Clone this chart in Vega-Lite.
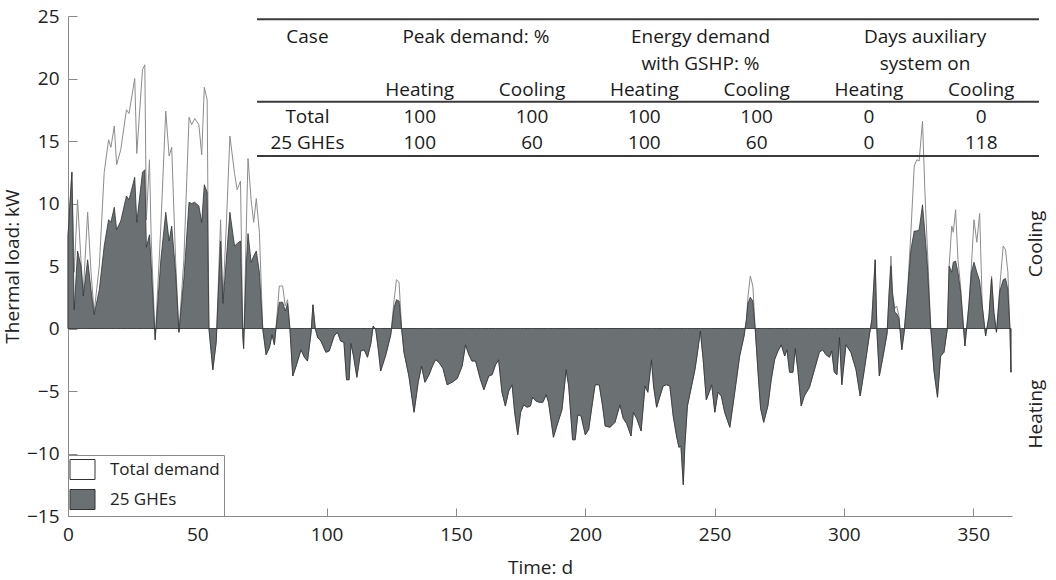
{
  "$schema": "https://vega.github.io/schema/vega-lite/v6.json",
  "width": 944,
  "height": 500,
  "autosize": {"type": "none"},
  "padding": {"left": 68, "top": 16, "right": 44, "bottom": 64},
  "background": "white",
  "config": {
    "font": "Open Sans",
    "view": {"stroke": null},
    "axis": {"labelColor": "#222", "titleColor": "#222", "titleFontWeight": "normal", "domainColor": "#8a8a8a", "tickColor": "#8a8a8a", "grid": false, "labelFontSize": 19, "titleFontSize": 19}
  },
  "datasets": {
    "load": [
      {"d": 0.0, "t": 7.4, "g": 7.4},
      {"d": 1.5, "t": 12.5, "g": 12.5},
      {"d": 2.4, "t": 4.5, "g": 1.5},
      {"d": 3.7, "t": 10.3, "g": 6.2},
      {"d": 5.0, "t": 5.5, "g": 5.0},
      {"d": 5.9, "t": 2.9, "g": 2.6},
      {"d": 7.6, "t": 9.3, "g": 5.5},
      {"d": 8.9, "t": 4.5, "g": 3.1},
      {"d": 10.1, "t": 1.3, "g": 1.1},
      {"d": 12.1, "t": 5.0, "g": 3.1},
      {"d": 14.0, "t": 12.5, "g": 6.6},
      {"d": 15.7, "t": 15.1, "g": 8.7},
      {"d": 16.6, "t": 14.5, "g": 8.5},
      {"d": 17.9, "t": 16.2, "g": 9.7},
      {"d": 18.8, "t": 13.1, "g": 7.9},
      {"d": 20.4, "t": 14.3, "g": 8.6},
      {"d": 22.6, "t": 17.5, "g": 10.6},
      {"d": 23.6, "t": 17.2, "g": 10.3},
      {"d": 25.8, "t": 20.0, "g": 12.1},
      {"d": 26.6, "t": 14.0, "g": 8.5},
      {"d": 28.8, "t": 20.7, "g": 12.5},
      {"d": 29.7, "t": 21.1, "g": 12.7},
      {"d": 30.3, "t": 8.7, "g": 6.5},
      {"d": 31.5, "t": 13.5, "g": 7.5},
      {"d": 32.2, "t": 7.0, "g": 5.0},
      {"d": 33.7, "t": -0.9, "g": -0.9},
      {"d": 35.9, "t": 8.2, "g": 5.5},
      {"d": 37.8, "t": 17.4, "g": 9.3},
      {"d": 39.1, "t": 13.8, "g": 7.0},
      {"d": 40.1, "t": 14.5, "g": 8.2},
      {"d": 41.6, "t": 5.5, "g": 4.5},
      {"d": 42.9, "t": -0.3, "g": -0.3},
      {"d": 44.8, "t": 5.5, "g": 4.0},
      {"d": 46.8, "t": 16.9, "g": 10.1},
      {"d": 47.8, "t": 16.3, "g": 10.0},
      {"d": 49.0, "t": 16.8, "g": 10.1},
      {"d": 50.6, "t": 16.3, "g": 9.8},
      {"d": 51.7, "t": 13.9, "g": 8.5},
      {"d": 52.7, "t": 19.3, "g": 11.5},
      {"d": 53.8, "t": 18.3, "g": 10.9},
      {"d": 54.5, "t": 0.0, "g": 0.0},
      {"d": 56.0, "t": -3.3, "g": -3.3},
      {"d": 57.3, "t": -1.1, "g": -1.1},
      {"d": 59.0, "t": 8.7, "g": 7.0},
      {"d": 59.9, "t": 2.3, "g": 2.0},
      {"d": 61.2, "t": 8.2, "g": 5.5},
      {"d": 62.6, "t": 15.4, "g": 9.3},
      {"d": 64.4, "t": 12.4, "g": 6.6},
      {"d": 65.4, "t": 11.1, "g": 6.8},
      {"d": 66.7, "t": 11.8, "g": 7.0},
      {"d": 67.6, "t": -0.6, "g": -0.6},
      {"d": 67.9, "t": -1.6, "g": -1.6},
      {"d": 68.9, "t": 7.7, "g": 5.0},
      {"d": 69.6, "t": 13.6, "g": 7.6},
      {"d": 70.8, "t": 10.3, "g": 5.3},
      {"d": 71.8, "t": 8.5, "g": 5.8},
      {"d": 72.8, "t": 10.4, "g": 6.2},
      {"d": 74.0, "t": 7.7, "g": 4.5},
      {"d": 75.3, "t": 0.0, "g": 0.0},
      {"d": 76.6, "t": -2.1, "g": -2.1},
      {"d": 77.9, "t": -1.5, "g": -1.5},
      {"d": 78.9, "t": -0.5, "g": -0.5},
      {"d": 79.8, "t": -1.3, "g": -1.3},
      {"d": 80.4, "t": 0.0, "g": 0.0},
      {"d": 81.7, "t": 3.4, "g": 2.1},
      {"d": 83.0, "t": 3.4, "g": 2.1},
      {"d": 84.0, "t": 1.8, "g": 1.4},
      {"d": 84.9, "t": 2.3, "g": 2.0},
      {"d": 85.8, "t": 0.0, "g": 0.0},
      {"d": 86.9, "t": -3.8, "g": -3.8},
      {"d": 88.2, "t": -3.0, "g": -3.0},
      {"d": 90.1, "t": -1.7, "g": -1.7},
      {"d": 91.4, "t": -2.3, "g": -2.3},
      {"d": 92.6, "t": -2.6, "g": -2.6},
      {"d": 94.0, "t": -0.3, "g": -0.3},
      {"d": 94.7, "t": 1.9, "g": 1.9},
      {"d": 95.6, "t": 0.0, "g": 0.0},
      {"d": 96.5, "t": -0.7, "g": -0.7},
      {"d": 97.8, "t": -1.0, "g": -1.0},
      {"d": 99.7, "t": -1.9, "g": -1.9},
      {"d": 101.0, "t": -1.8, "g": -1.8},
      {"d": 102.9, "t": -0.6, "g": -0.6},
      {"d": 104.2, "t": -0.3, "g": -0.3},
      {"d": 105.4, "t": -1.0, "g": -1.0},
      {"d": 106.7, "t": -1.1, "g": -1.1},
      {"d": 107.7, "t": -4.1, "g": -4.1},
      {"d": 108.7, "t": -4.1, "g": -4.1},
      {"d": 109.4, "t": -1.2, "g": -1.2},
      {"d": 110.4, "t": -2.2, "g": -2.2},
      {"d": 111.7, "t": -3.9, "g": -3.9},
      {"d": 113.2, "t": -1.8, "g": -1.8},
      {"d": 114.5, "t": -1.7, "g": -1.7},
      {"d": 115.8, "t": -2.3, "g": -2.3},
      {"d": 117.1, "t": -1.2, "g": -1.2},
      {"d": 118.0, "t": 0.2, "g": 0.2},
      {"d": 119.0, "t": -0.1, "g": -0.1},
      {"d": 120.0, "t": -1.7, "g": -1.7},
      {"d": 120.9, "t": -3.4, "g": -3.4},
      {"d": 122.9, "t": -2.1, "g": -2.1},
      {"d": 124.8, "t": -0.5, "g": -0.5},
      {"d": 126.1, "t": 2.3, "g": 1.7},
      {"d": 127.0, "t": 3.9, "g": 2.3},
      {"d": 128.0, "t": 3.7, "g": 2.2},
      {"d": 129.0, "t": 0.0, "g": 0.0},
      {"d": 129.9, "t": -1.9, "g": -1.9},
      {"d": 131.8, "t": -3.8, "g": -3.8},
      {"d": 133.8, "t": -6.7, "g": -6.7},
      {"d": 135.4, "t": -4.3, "g": -4.3},
      {"d": 136.7, "t": -3.0, "g": -3.0},
      {"d": 138.0, "t": -4.3, "g": -4.3},
      {"d": 139.6, "t": -3.7, "g": -3.7},
      {"d": 140.9, "t": -3.0, "g": -3.0},
      {"d": 142.1, "t": -2.5, "g": -2.5},
      {"d": 143.4, "t": -2.7, "g": -2.7},
      {"d": 145.0, "t": -3.2, "g": -3.2},
      {"d": 146.6, "t": -4.5, "g": -4.5},
      {"d": 148.5, "t": -4.3, "g": -4.3},
      {"d": 150.5, "t": -4.0, "g": -4.0},
      {"d": 152.4, "t": -3.0, "g": -3.0},
      {"d": 153.7, "t": -1.3, "g": -1.3},
      {"d": 155.0, "t": -2.1, "g": -2.1},
      {"d": 156.2, "t": -2.6, "g": -2.6},
      {"d": 157.6, "t": -2.6, "g": -2.6},
      {"d": 159.5, "t": -4.1, "g": -4.1},
      {"d": 160.8, "t": -4.9, "g": -4.9},
      {"d": 162.7, "t": -3.8, "g": -3.8},
      {"d": 164.0, "t": -3.7, "g": -3.7},
      {"d": 165.3, "t": -2.9, "g": -2.9},
      {"d": 166.5, "t": -2.5, "g": -2.5},
      {"d": 167.8, "t": -5.1, "g": -5.1},
      {"d": 169.1, "t": -6.2, "g": -6.2},
      {"d": 170.4, "t": -5.0, "g": -5.0},
      {"d": 171.7, "t": -4.5, "g": -4.5},
      {"d": 172.7, "t": -6.7, "g": -6.7},
      {"d": 173.9, "t": -8.5, "g": -8.5},
      {"d": 175.0, "t": -6.7, "g": -6.7},
      {"d": 176.2, "t": -6.1, "g": -6.1},
      {"d": 177.5, "t": -6.3, "g": -6.3},
      {"d": 178.8, "t": -6.2, "g": -6.2},
      {"d": 179.6, "t": -5.5, "g": -5.5},
      {"d": 180.9, "t": -5.8, "g": -5.8},
      {"d": 182.2, "t": -5.9, "g": -5.9},
      {"d": 183.6, "t": -5.9, "g": -5.9},
      {"d": 184.9, "t": -5.3, "g": -5.3},
      {"d": 185.8, "t": -5.9, "g": -5.9},
      {"d": 187.7, "t": -8.7, "g": -8.7},
      {"d": 189.0, "t": -7.8, "g": -7.8},
      {"d": 191.0, "t": -6.5, "g": -6.5},
      {"d": 192.6, "t": -3.3, "g": -3.3},
      {"d": 193.6, "t": -4.6, "g": -4.6},
      {"d": 195.1, "t": -8.9, "g": -8.9},
      {"d": 196.1, "t": -8.9, "g": -8.9},
      {"d": 197.1, "t": -6.9, "g": -6.9},
      {"d": 198.4, "t": -7.0, "g": -7.0},
      {"d": 200.0, "t": -8.5, "g": -8.5},
      {"d": 201.3, "t": -8.1, "g": -8.1},
      {"d": 202.8, "t": -5.9, "g": -5.9},
      {"d": 203.8, "t": -4.5, "g": -4.5},
      {"d": 205.4, "t": -4.5, "g": -4.5},
      {"d": 206.7, "t": -6.2, "g": -6.2},
      {"d": 207.7, "t": -7.8, "g": -7.8},
      {"d": 209.6, "t": -7.9, "g": -7.9},
      {"d": 211.5, "t": -7.5, "g": -7.5},
      {"d": 213.4, "t": -6.1, "g": -6.1},
      {"d": 214.7, "t": -7.2, "g": -7.2},
      {"d": 216.0, "t": -7.6, "g": -7.6},
      {"d": 217.7, "t": -8.6, "g": -8.6},
      {"d": 218.6, "t": -6.7, "g": -6.7},
      {"d": 219.9, "t": -7.2, "g": -7.2},
      {"d": 221.6, "t": -8.2, "g": -8.2},
      {"d": 223.1, "t": -4.6, "g": -4.6},
      {"d": 224.2, "t": -5.1, "g": -5.1},
      {"d": 225.6, "t": -2.5, "g": -2.5},
      {"d": 226.4, "t": -4.6, "g": -4.6},
      {"d": 227.6, "t": -6.3, "g": -6.3},
      {"d": 228.9, "t": -5.4, "g": -5.4},
      {"d": 230.1, "t": -4.6, "g": -4.6},
      {"d": 231.4, "t": -4.5, "g": -4.5},
      {"d": 232.7, "t": -4.6, "g": -4.6},
      {"d": 234.0, "t": -7.0, "g": -7.0},
      {"d": 235.3, "t": -8.6, "g": -8.6},
      {"d": 236.2, "t": -9.5, "g": -9.5},
      {"d": 237.0, "t": -9.4, "g": -9.4},
      {"d": 237.9, "t": -12.5, "g": -12.5},
      {"d": 238.5, "t": -9.4, "g": -9.4},
      {"d": 239.5, "t": -6.2, "g": -6.2},
      {"d": 241.1, "t": -4.6, "g": -4.6},
      {"d": 242.4, "t": -3.3, "g": -3.3},
      {"d": 243.2, "t": -2.2, "g": -2.2},
      {"d": 244.5, "t": -0.2, "g": -0.2},
      {"d": 245.6, "t": -2.5, "g": -2.5},
      {"d": 246.8, "t": -5.7, "g": -5.7},
      {"d": 247.9, "t": -5.1, "g": -5.1},
      {"d": 248.9, "t": -4.5, "g": -4.5},
      {"d": 250.1, "t": -6.7, "g": -6.7},
      {"d": 251.3, "t": -5.1, "g": -5.1},
      {"d": 252.6, "t": -5.4, "g": -5.4},
      {"d": 253.9, "t": -6.7, "g": -6.7},
      {"d": 255.9, "t": -7.9, "g": -7.9},
      {"d": 257.8, "t": -5.1, "g": -5.1},
      {"d": 259.7, "t": -2.2, "g": -2.2},
      {"d": 261.4, "t": -0.6, "g": -0.6},
      {"d": 262.3, "t": 0.7, "g": 0.7},
      {"d": 262.9, "t": 2.5, "g": 2.0},
      {"d": 263.8, "t": 4.2, "g": 2.5},
      {"d": 264.8, "t": 3.4, "g": 2.2},
      {"d": 265.7, "t": 0.0, "g": 0.0},
      {"d": 266.8, "t": -3.5, "g": -3.5},
      {"d": 267.8, "t": -6.4, "g": -6.4},
      {"d": 269.0, "t": -7.5, "g": -7.5},
      {"d": 270.6, "t": -6.2, "g": -6.2},
      {"d": 271.9, "t": -4.1, "g": -4.1},
      {"d": 273.2, "t": -2.5, "g": -2.5},
      {"d": 274.5, "t": -1.8, "g": -1.8},
      {"d": 275.8, "t": -1.3, "g": -1.3},
      {"d": 277.1, "t": -2.2, "g": -2.2},
      {"d": 278.0, "t": -1.7, "g": -1.7},
      {"d": 279.0, "t": -3.5, "g": -3.5},
      {"d": 280.3, "t": -3.5, "g": -3.5},
      {"d": 281.2, "t": -1.6, "g": -1.6},
      {"d": 282.2, "t": -3.3, "g": -3.3},
      {"d": 283.5, "t": -6.2, "g": -6.2},
      {"d": 284.7, "t": -5.4, "g": -5.4},
      {"d": 286.7, "t": -4.7, "g": -4.7},
      {"d": 288.6, "t": -3.3, "g": -3.3},
      {"d": 290.5, "t": -1.9, "g": -1.9},
      {"d": 291.8, "t": -1.7, "g": -1.7},
      {"d": 293.1, "t": -2.1, "g": -2.1},
      {"d": 294.4, "t": -2.3, "g": -2.3},
      {"d": 295.3, "t": -1.8, "g": -1.8},
      {"d": 296.3, "t": -3.5, "g": -3.5},
      {"d": 297.3, "t": -3.7, "g": -3.7},
      {"d": 298.3, "t": -0.7, "g": -0.7},
      {"d": 299.2, "t": -4.5, "g": -4.5},
      {"d": 300.8, "t": -1.3, "g": -1.3},
      {"d": 302.7, "t": -1.9, "g": -1.9},
      {"d": 304.7, "t": -3.3, "g": -3.3},
      {"d": 306.3, "t": -5.4, "g": -5.4},
      {"d": 307.9, "t": -3.3, "g": -3.3},
      {"d": 309.8, "t": -0.6, "g": -0.6},
      {"d": 310.8, "t": 0.7, "g": 0.7},
      {"d": 312.1, "t": 5.5, "g": 5.5},
      {"d": 312.8, "t": -0.3, "g": -0.3},
      {"d": 313.7, "t": -3.8, "g": -3.8},
      {"d": 314.9, "t": -2.5, "g": -2.5},
      {"d": 316.7, "t": -0.4, "g": -0.4},
      {"d": 317.5, "t": 2.9, "g": 2.9},
      {"d": 318.2, "t": 5.8, "g": 5.0},
      {"d": 318.8, "t": 2.9, "g": 2.7},
      {"d": 319.7, "t": 1.6, "g": 1.3},
      {"d": 320.4, "t": 1.8, "g": 1.2},
      {"d": 321.3, "t": 1.0, "g": 0.8},
      {"d": 322.4, "t": -1.7, "g": -1.7},
      {"d": 323.3, "t": -0.3, "g": -0.3},
      {"d": 324.6, "t": 2.9, "g": 2.9},
      {"d": 325.9, "t": 7.7, "g": 6.3},
      {"d": 327.2, "t": 13.0, "g": 7.8},
      {"d": 328.2, "t": 13.5, "g": 7.8},
      {"d": 329.1, "t": 13.4, "g": 7.9},
      {"d": 330.4, "t": 16.6, "g": 9.9},
      {"d": 331.3, "t": 11.1, "g": 7.7},
      {"d": 332.3, "t": 6.3, "g": 5.0},
      {"d": 333.6, "t": 0.0, "g": 0.0},
      {"d": 334.9, "t": -3.5, "g": -3.5},
      {"d": 336.2, "t": -5.5, "g": -5.5},
      {"d": 337.4, "t": -2.2, "g": -2.2},
      {"d": 338.7, "t": -1.9, "g": -1.9},
      {"d": 340.0, "t": 0.0, "g": 0.0},
      {"d": 340.7, "t": 5.0, "g": 5.0},
      {"d": 341.7, "t": 8.2, "g": 4.5},
      {"d": 342.3, "t": 7.7, "g": 5.3},
      {"d": 343.2, "t": 9.5, "g": 5.4},
      {"d": 344.1, "t": 5.5, "g": 4.5},
      {"d": 345.1, "t": 3.4, "g": 3.0},
      {"d": 346.8, "t": -1.4, "g": -1.4},
      {"d": 348.3, "t": 1.8, "g": 1.8},
      {"d": 349.3, "t": 5.0, "g": 4.5},
      {"d": 350.3, "t": 8.7, "g": 5.3},
      {"d": 351.4, "t": 6.9, "g": 4.5},
      {"d": 352.5, "t": 9.2, "g": 3.8},
      {"d": 353.5, "t": 1.8, "g": 1.8},
      {"d": 354.8, "t": -0.6, "g": -0.6},
      {"d": 356.1, "t": 1.0, "g": 1.0},
      {"d": 357.1, "t": 4.2, "g": 4.0},
      {"d": 358.0, "t": 1.3, "g": 1.3},
      {"d": 359.0, "t": -0.3, "g": -0.3},
      {"d": 360.3, "t": 3.4, "g": 3.0},
      {"d": 361.6, "t": 6.6, "g": 3.9},
      {"d": 362.5, "t": 6.3, "g": 4.0},
      {"d": 363.4, "t": 4.5, "g": 3.1},
      {"d": 364.2, "t": 0.0, "g": 0.0},
      {"d": 364.6, "t": -3.5, "g": -3.5}
    ],
    "table": [
      {"c": 0, "r": 0, "s": "Case"},
      {"c": 1.5, "r": 0, "s": "Peak demand: %"},
      {"c": 3.5, "r": 0, "s": "Energy demand"},
      {"c": 5.5, "r": 0, "s": "Days auxiliary"},
      {"c": 3.5, "r": 1, "s": "with GSHP: %"},
      {"c": 5.5, "r": 1, "s": "system on"},
      {"c": 1, "r": 2, "s": "Heating"},
      {"c": 2, "r": 2, "s": "Cooling"},
      {"c": 3, "r": 2, "s": "Heating"},
      {"c": 4, "r": 2, "s": "Cooling"},
      {"c": 5, "r": 2, "s": "Heating"},
      {"c": 6, "r": 2, "s": "Cooling"},
      {"c": 0, "r": 3, "s": "Total"},
      {"c": 1, "r": 3, "s": "100"},
      {"c": 2, "r": 3, "s": "100"},
      {"c": 3, "r": 3, "s": "100"},
      {"c": 4, "r": 3, "s": "100"},
      {"c": 5, "r": 3, "s": "0"},
      {"c": 6, "r": 3, "s": "0"},
      {"c": 0, "r": 4, "s": "25 GHEs"},
      {"c": 1, "r": 4, "s": "100"},
      {"c": 2, "r": 4, "s": "60"},
      {"c": 3, "r": 4, "s": "100"},
      {"c": 4, "r": 4, "s": "60"},
      {"c": 5, "r": 4, "s": "0"},
      {"c": 6, "r": 4, "s": "118"}
    ],
    "tablerules": [
      {"r": -0.68},
      {"r": 2.44},
      {"r": 4.49}
    ]
  },
  "layer": [
    {
      "data": {"name": "load"},
      "mark": {"type": "area", "interpolate": "linear", "stroke": "#8c8c8c", "strokeWidth": 1, "opacity": 1},
      "encoding": {
        "x": {"field": "d", "type": "quantitative", "scale": {"domain": [0, 365], "nice": false, "zero": false},
          "axis": {"title": "Time: d", "values": [0, 50, 100, 150, 200, 250, 300, 350], "tickSize": -8, "labelPadding": 17, "titlePadding": 14, "labelFlush": false}},
        "y": {"field": "t", "type": "quantitative", "scale": {"domain": [-15, 25], "nice": false, "zero": false},
          "axis": {"title": "Thermal load: kW", "values": [-15, -10, -5, 0, 5, 10, 15, 20, 25], "tickSize": -9, "labelPadding": 18, "titlePadding": 4, "labelFlush": false}},
        "color": {"datum": "Total demand", "type": "nominal",
          "scale": {"domain": ["Total demand", "25 GHEs"], "range": ["#ffffff", "#6b7073"]},
          "legend": {"title": null, "orient": "bottom-left", "offset": 0, "padding": 4, "strokeColor": "#8a8a8a", "fillColor": "#ffffff",
            "labelFontSize": 17, "labelColor": "#222", "symbolType": "M-1.25,-1H1.25V1H-1.25Z", "symbolSize": 400,
            "symbolStrokeColor": "#777", "symbolStrokeWidth": 1, "symbolOpacity": 1, "rowPadding": 5, "labelOffset": 17}}
      }
    },
    {
      "data": {"name": "load"},
      "mark": {"type": "area", "interpolate": "linear", "stroke": "#303336", "strokeWidth": 0.8, "opacity": 1},
      "encoding": {
        "x": {"field": "d", "type": "quantitative", "scale": {"domain": [0, 365], "nice": false, "zero": false}, "axis": null},
        "y": {"field": "g", "type": "quantitative", "scale": {"domain": [-15, 25], "nice": false, "zero": false}, "axis": null},
        "color": {"datum": "25 GHEs", "type": "nominal"}
      }
    },
    {
      "mark": {"type": "rule", "color": "#7d7d7d", "strokeWidth": 1.2, "clip": false},
      "encoding": {
        "x": {"datum": 0, "type": "quantitative", "scale": {"domain": [0, 365], "nice": false, "zero": false}, "axis": null},
        "x2": {"datum": 375.5},
        "y": {"datum": 0, "type": "quantitative", "scale": {"domain": [-15, 25], "nice": false, "zero": false},
          "axis": {"orient": "right", "title": null, "values": [6.8, -6.8], "labelExpr": "datum.value > 0 ? 'Cooling' : 'Heating'",
            "labelAngle": -90, "labelAlign": "center", "labelBaseline": "top", "ticks": false, "domain": false, "labelPadding": 14}}
      }
    },
    {
      "data": {"name": "table"},
      "mark": {"type": "text", "fontSize": 19, "color": "#1a1a1a", "align": "center", "baseline": "middle"},
      "encoding": {
        "x": {"field": "c", "type": "quantitative", "scale": {"domain": [-2.132, 6.274], "nice": false, "zero": false}, "axis": null},
        "y": {"field": "r", "type": "quantitative", "scale": {"domain": [-0.8015, 18.1], "nice": false, "zero": false, "reverse": true}, "axis": null},
        "text": {"field": "s"}
      }
    },
    {
      "data": {"name": "tablerules"},
      "mark": {"type": "rule", "color": "#3a3a3a", "strokeWidth": 2},
      "encoding": {
        "x": {"datum": -0.449, "type": "quantitative", "scale": {"domain": [-2.132, 6.274], "nice": false, "zero": false}, "axis": null},
        "x2": {"datum": 6.514},
        "y": {"field": "r", "type": "quantitative", "scale": {"domain": [-0.8015, 18.1], "nice": false, "zero": false, "reverse": true}, "axis": null}
      }
    }
  ],
  "resolve": {"scale": {"x": "independent", "y": "independent"}}
}
